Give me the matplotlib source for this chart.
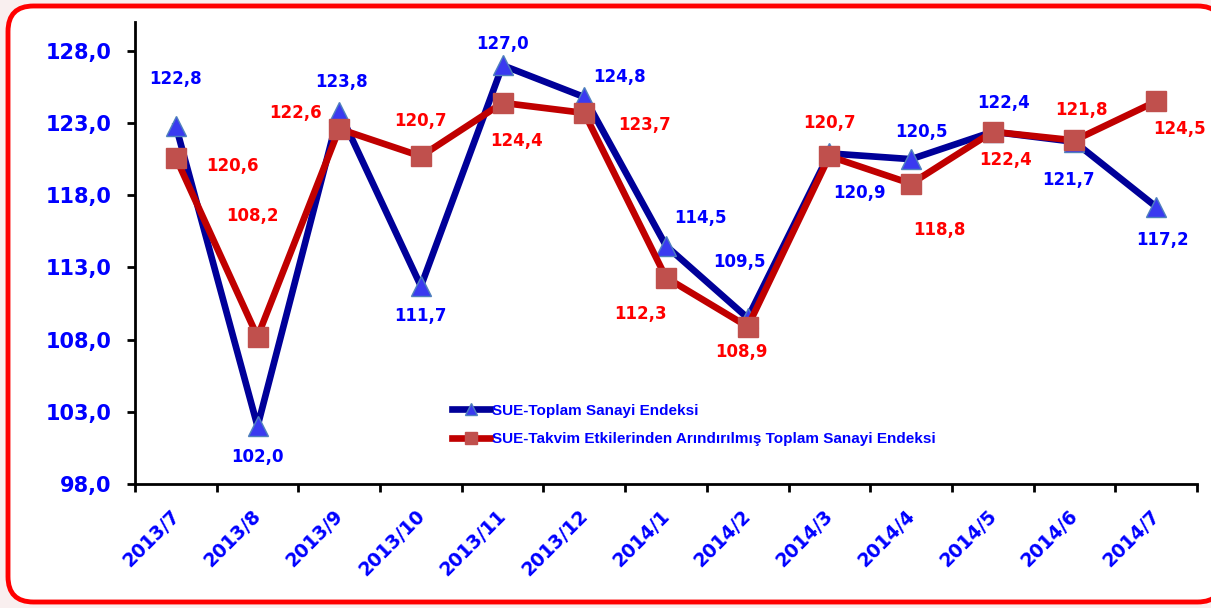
import numpy as np
import matplotlib.pyplot as plt
import matplotlib.transforms as mtransforms
from matplotlib.patches import FancyBboxPatch

plt.rcParams['font.family'] = ['DejaVu Sans']
plt.rcParams['font.weight'] = 'bold'

# data
months = ['2013/7', '2013/8', '2013/9', '2013/10', '2013/11', '2013/12',
          '2014/1', '2014/2', '2014/3', '2014/4', '2014/5', '2014/6', '2014/7']
toplam = [122.8, 102.0, 123.8, 111.7, 127.0, 124.8, 114.5, 109.5, 120.9, 120.5, 122.4, 121.7, 117.2]
takvim = [120.6, 108.2, 122.6, 120.7, 124.4, 123.7, 112.3, 108.9, 120.7, 118.8, 122.4, 121.8, 124.5]
yticks = [98.0, 103.0, 108.0, 113.0, 118.0, 123.0, 128.0]

# label offsets in pixels (dx, dy)
off_toplam = [(0, 47), (0, -31), (2, 30), (0, -30), (0, 21), (35, 20), (34, 28),
              (-8, 56), (30, -40), (10, 27), (11, 29), (-6, -38), (6, -33)]
off_takvim = [(57, -8), (-5, 121), (-44, 16), (0, 35), (14, -38), (60, -12), (-26, -36),
              (-6, -25), (0, 33), (28, -46), (13, -28), (7, 30), (23, -28)]

fig = plt.figure(figsize=(12.11, 6.08), dpi=100)
fig.patch.set_facecolor('#f9efef')
border = FancyBboxPatch((8 / 1211, 6 / 608), 1215 / 1211, 596 / 608,
                        boxstyle='round,pad=0,rounding_size=0.021',
                        mutation_aspect=1211 / 608,
                        transform=fig.transFigure, facecolor='white',
                        edgecolor='#ff0000', linewidth=3.5, zorder=-5)
fig.patches.append(border)

ax = fig.add_axes([135 / 1211, 124 / 608, 1062 / 1211, 462 / 608])
ax.set_facecolor('none')

x = np.arange(len(months)) + 0.5
ax.plot(x, toplam, color='#000099', lw=4.8, marker='^', ms=14,
        mfc='#3a3af0', mec='#4f81bd', mew=1, label='SUE-Toplam Sanayi Endeksi', zorder=3)
ax.plot(x, takvim, color='#c00000', lw=4.8, marker='s', ms=14,
        mfc='#c0504d', mec='#c0504d', mew=1,
        label='SUE-Takvim Etkilerinden Arındırılmış Toplam Sanayi Endeksi', zorder=4)

for xi, v, o in zip(x, toplam, off_toplam):
    ax.annotate(f'{v:.1f}'.replace('.', ','), (xi, v), xytext=o, textcoords='offset pixels',
                ha='center', va='center', color='#0000ff', fontsize=12, fontweight='bold')
for xi, v, o in zip(x, takvim, off_takvim):
    ax.annotate(f'{v:.1f}'.replace('.', ','), (xi, v), xytext=o, textcoords='offset pixels',
                ha='center', va='center', color='#ff0000', fontsize=12, fontweight='bold')

ax.set_xlim(0, len(months))
ax.set_ylim(98, 130)
ax.set_yticks(yticks)
ax.set_yticklabels([f'{t:.1f}'.replace('.', ',') for t in yticks],
                   color='#0000ff', fontsize=15, fontweight='bold')
ax.set_xticks(np.arange(len(months) + 1))
ax.set_xticklabels([])
ax.set_xticks(x, minor=True)
ax.set_xticklabels(months, minor=True, rotation=45, ha='right', rotation_mode='anchor',
                   color='#0000ff', fontsize=13.5, fontweight='bold')
ax.tick_params(axis='x', which='minor', length=0, pad=16)
ax.tick_params(axis='both', which='major', length=6, width=2, direction='out')
ax.tick_params(axis='y', pad=11)
shift = mtransforms.ScaledTranslation(-6 / 100, 0, fig.dpi_scale_trans)
for lab in ax.get_xticklabels(minor=True):
    lab.set_transform(lab.get_transform() + shift)
for s in ['top', 'right']:
    ax.spines[s].set_visible(False)
for s in ['left', 'bottom']:
    ax.spines[s].set_linewidth(2)

leg = ax.legend(loc='upper left', bbox_to_anchor=(438 / 1211, 218 / 608),
                bbox_transform=fig.transFigure, frameon=False, handlelength=2.5,
                handletextpad=0.15, labelspacing=0.95,
                prop={'family': ['Liberation Sans', 'DejaVu Sans'],
                      'weight': 'bold', 'size': 11},
                markerscale=0.6)
for t in leg.get_texts():
    t.set_color('#0000ff')

fig.savefig('out.png', dpi=100, facecolor=fig.get_facecolor())
